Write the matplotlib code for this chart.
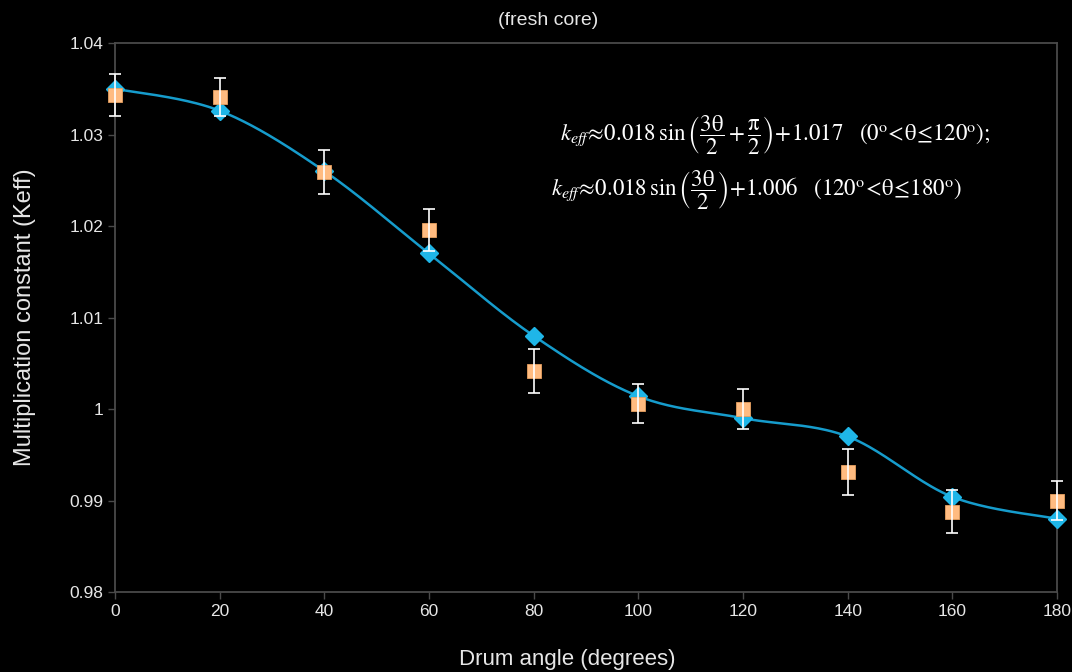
import numpy as np
import matplotlib.pyplot as plt
from matplotlib.ticker import FuncFormatter

# drum angle (degrees)
angle = [0, 20, 40, 60, 80, 100, 120, 140, 160, 180]
# fitted keff (blue diamonds)
keff_fit = [1.035, 1.0326, 1.026, 1.017, 1.008, 1.0014, 0.999, 0.997, 0.9904, 0.988]
# simulated keff (orange squares) and error
keff_sim = [1.0343, 1.0341, 1.0259, 1.0196, 1.0042, 1.0006, 1.0000, 0.9931, 0.9888, 0.9900]
keff_err = [0.0023, 0.0021, 0.0024, 0.0023, 0.0024, 0.0021, 0.0022, 0.0025, 0.0024, 0.0021]


def smooth(x, y, n=40):
    # Catmull-Rom style smoothing, like a spreadsheet "smoothed line"
    x = np.asarray(x, float)
    y = np.asarray(y, float)
    px = np.concatenate([[x[0]], x, [x[-1]]])
    py = np.concatenate([[y[0]], y, [y[-1]]])
    xs, ys = [], []
    t = np.linspace(0, 1, n)
    for i in range(1, len(px) - 2):
        for p, out in ((px, xs), (py, ys)):
            p0, p1, p2, p3 = p[i - 1], p[i], p[i + 1], p[i + 2]
            c1 = p1 + (p2 - p0) / 6
            c2 = p2 - (p3 - p1) / 6
            out.extend((1 - t) ** 3 * p1 + 3 * (1 - t) ** 2 * t * c1
                       + 3 * (1 - t) * t ** 2 * c2 + t ** 3 * p2)
    return np.array(xs), np.array(ys)


plt.rcParams["font.family"] = ["Liberation Sans", "DejaVu Sans"]
plt.rcParams["mathtext.fontset"] = "stix"

fig = plt.figure(figsize=(10.72, 6.72), dpi=100, facecolor="black")
ax = fig.add_axes([0.1073, 0.119, 0.8787, 0.817], facecolor="black")

sx, sy = smooth(angle, keff_fit)
ax.plot(sx, sy, color="#169ccc", lw=1.8, zorder=2)
ax.plot(angle, keff_fit, ls="none", marker="D", ms=9.5, color="#1fb6e8",
        mec="#1fb6e8", zorder=3, clip_on=False)
ax.plot(angle, keff_sim, ls="none", marker="s", ms=9.5, color="#ffbb80",
        mec="#e8a060", mew=0.6, zorder=4, clip_on=False)
ax.errorbar(angle, keff_sim, yerr=keff_err, fmt="none", ecolor="white",
            elinewidth=1.2, capsize=4, capthick=1.2, zorder=5, clip_on=False)

ax.set_xlim(0, 180)
ax.set_ylim(0.98, 1.04)
ax.set_xticks(angle)
ax.set_yticks(np.arange(0.98, 1.0401, 0.01))
ax.yaxis.set_major_formatter(FuncFormatter(lambda v, p: "%g" % round(v, 2)))

for s in ax.spines.values():
    s.set_color("#4a4a4a")
    s.set_linewidth(1.3)
ax.tick_params(colors="#4a4a4a", labelcolor="#e6e6e6", labelsize=12.5,
               length=5, width=1)

fig.text(0.529, 0.003, "Drum angle (degrees)", color="#e6e6e6", fontsize=16,
         ha="center", va="bottom")
ax.set_ylabel("Multiplication constant (Keff)", color="#e6e6e6", fontsize=17,
              labelpad=24)
fig.text(0.511, 0.97, "(fresh core)", color="#e6e6e6", fontsize=14,
         ha="center", va="center")

eq1 = (r"$k_{eff}\!\approx\!0.018\,\mathrm{sin}\,\left(\dfrac{3\mathrm{\theta}}{2}+\dfrac{\mathrm{\pi}}{2}\right)"
       r"\!+\!1.017\quad(0^{\mathrm{o}}\!<\!\mathrm{\theta}\!\leq\!120^{\mathrm{o}});$")
eq2 = (r"$k_{eff}\!\approx\!0.018\,\mathrm{sin}\,\left(\dfrac{3\mathrm{\theta}}{2}\right)"
       r"\!+\!1.006\quad(120^{\mathrm{o}}\!<\!\mathrm{\theta}\!\leq\!180^{\mathrm{o}})$")
fig.text(0.522, 0.799, eq1, color="white", fontsize=16.5, va="center", ha="left")
fig.text(0.514, 0.717, eq2, color="white", fontsize=16.5, va="center", ha="left")

fig.savefig("out.png", dpi=100, facecolor="black")
